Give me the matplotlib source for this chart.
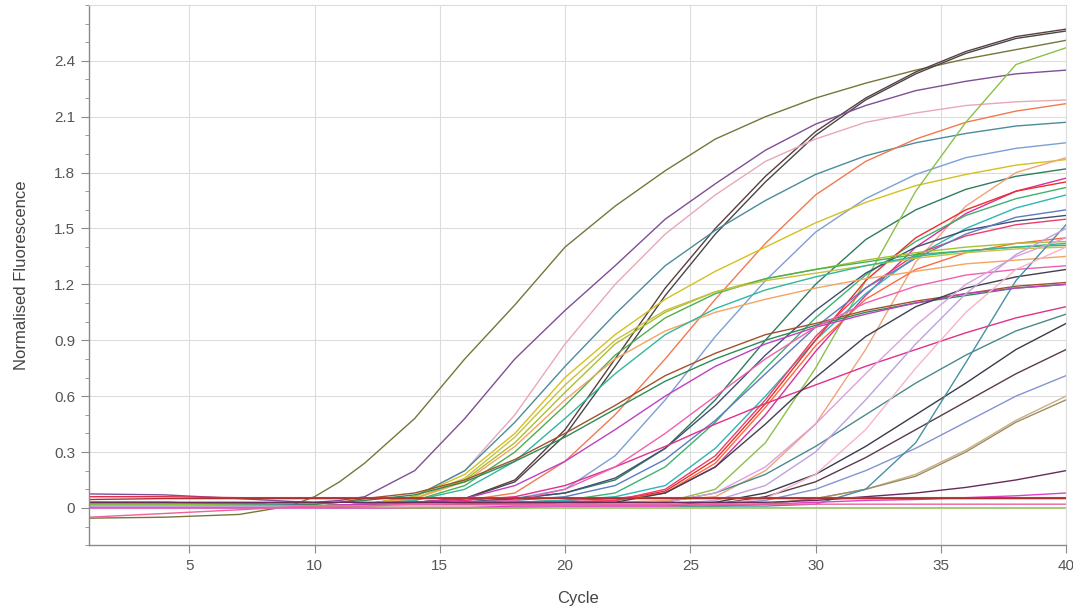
import matplotlib.pyplot as plt
from matplotlib.ticker import MultipleLocator

plt.rcParams['font.family'] = ['Liberation Sans', 'DejaVu Sans']

cycles = [1, 4, 7, 9, 10, 11, 12, 14, 16, 18, 20, 22, 24, 26, 28, 30, 32, 34, 36, 38, 40]

# normalised fluorescence per run, same order as cycles
run_olive = [-0.055, -0.05, -0.035, 0.01, 0.06, 0.14, 0.24, 0.48, 0.80, 1.09, 1.40, 1.62, 1.81, 1.98, 2.10, 2.20, 2.28, 2.35, 2.41, 2.46, 2.51]
run_brown = [0.03, 0.03, 0.02, 0.015, 0.01, 0.015, 0.02, 0.03, 0.05, 0.15, 0.42, 0.80, 1.18, 1.50, 1.78, 2.02, 2.20, 2.34, 2.45, 2.53, 2.57]
run_dkgray = [0.02, 0.02, 0.02, 0.015, 0.01, 0.015, 0.02, 0.03, 0.05, 0.14, 0.39, 0.76, 1.14, 1.47, 1.75, 2.00, 2.19, 2.33, 2.44, 2.52, 2.56]
run_purple = [0.075, 0.07, 0.05, 0.035, 0.03, 0.04, 0.06, 0.20, 0.48, 0.80, 1.06, 1.30, 1.55, 1.74, 1.92, 2.06, 2.16, 2.24, 2.29, 2.33, 2.35]
run_ltpink = [0.03, 0.02, 0.02, 0.015, 0.01, 0.015, 0.02, 0.06, 0.20, 0.50, 0.88, 1.20, 1.47, 1.68, 1.86, 1.98, 2.07, 2.12, 2.16, 2.18, 2.19]
run_teal = [0.02, 0.02, 0.02, 0.015, 0.01, 0.015, 0.02, 0.06, 0.20, 0.46, 0.76, 1.04, 1.30, 1.49, 1.65, 1.79, 1.89, 1.96, 2.01, 2.05, 2.07]
run_salmon = [0.03, 0.03, 0.02, 0.015, 0.01, 0.015, 0.02, 0.03, 0.04, 0.08, 0.25, 0.50, 0.80, 1.12, 1.42, 1.68, 1.86, 1.98, 2.07, 2.13, 2.17]
run_ltblue = [0.01, 0.01, 0.01, 0.01, 0.01, 0.01, 0.01, 0.02, 0.03, 0.05, 0.10, 0.28, 0.58, 0.92, 1.22, 1.48, 1.66, 1.79, 1.88, 1.93, 1.96]
run_gold = [0.02, 0.02, 0.02, 0.015, 0.01, 0.015, 0.02, 0.06, 0.18, 0.40, 0.70, 0.93, 1.12, 1.27, 1.40, 1.53, 1.64, 1.73, 1.79, 1.84, 1.87]
run_dkgreen = [0.01, 0.01, 0.01, 0.01, 0.01, 0.01, 0.01, 0.02, 0.03, 0.05, 0.08, 0.15, 0.32, 0.58, 0.90, 1.20, 1.44, 1.60, 1.71, 1.78, 1.82]
run_ltgreen = [0.01, 0.01, 0.01, 0.01, 0.01, 0.01, 0.01, 0.01, 0.01, 0.01, 0.01, 0.02, 0.03, 0.10, 0.35, 0.75, 1.22, 1.70, 2.07, 2.38, 2.47]
run_peach = [0.02, 0.02, 0.02, 0.015, 0.01, 0.01, 0.01, 0.01, 0.02, 0.02, 0.03, 0.03, 0.04, 0.06, 0.20, 0.45, 0.85, 1.32, 1.62, 1.80, 1.88]
run_magenta = [0.02, 0.02, 0.02, 0.015, 0.01, 0.01, 0.01, 0.02, 0.02, 0.03, 0.04, 0.05, 0.08, 0.22, 0.50, 0.84, 1.14, 1.40, 1.58, 1.70, 1.77]
run_medgreen = [0.01, 0.01, 0.01, 0.01, 0.01, 0.01, 0.01, 0.02, 0.02, 0.03, 0.04, 0.08, 0.22, 0.46, 0.75, 1.02, 1.25, 1.43, 1.57, 1.66, 1.72]
run_cyan = [0.01, 0.01, 0.01, 0.01, 0.01, 0.01, 0.01, 0.01, 0.02, 0.03, 0.04, 0.06, 0.12, 0.32, 0.60, 0.90, 1.15, 1.35, 1.50, 1.61, 1.68]
run_red = [0.02, 0.02, 0.02, 0.015, 0.01, 0.01, 0.01, 0.01, 0.02, 0.02, 0.03, 0.04, 0.09, 0.26, 0.56, 0.90, 1.22, 1.45, 1.60, 1.70, 1.75]
run_orred = [0.02, 0.02, 0.02, 0.015, 0.01, 0.01, 0.01, 0.01, 0.02, 0.02, 0.03, 0.04, 0.08, 0.24, 0.54, 0.87, 1.12, 1.28, 1.37, 1.42, 1.45]
run_crimson = [0.01, 0.01, 0.01, 0.01, 0.01, 0.01, 0.01, 0.01, 0.02, 0.02, 0.03, 0.04, 0.10, 0.28, 0.58, 0.92, 1.18, 1.36, 1.46, 1.52, 1.55]
run_navy = [0.02, 0.02, 0.02, 0.015, 0.01, 0.01, 0.01, 0.02, 0.03, 0.05, 0.08, 0.16, 0.32, 0.55, 0.82, 1.06, 1.26, 1.40, 1.49, 1.54, 1.57]
run_blue = [0.01, 0.01, 0.01, 0.01, 0.01, 0.01, 0.01, 0.02, 0.03, 0.04, 0.06, 0.12, 0.26, 0.47, 0.72, 0.97, 1.18, 1.34, 1.47, 1.56, 1.60]
run_ygreen = [0.02, 0.02, 0.02, 0.015, 0.01, 0.015, 0.02, 0.05, 0.15, 0.35, 0.62, 0.88, 1.05, 1.16, 1.23, 1.28, 1.33, 1.37, 1.40, 1.42, 1.43]
run_green = [0.01, 0.01, 0.01, 0.01, 0.01, 0.015, 0.02, 0.04, 0.12, 0.30, 0.55, 0.82, 1.02, 1.15, 1.23, 1.28, 1.32, 1.36, 1.38, 1.40, 1.41]
run_khaki = [0.03, 0.03, 0.02, 0.015, 0.01, 0.015, 0.02, 0.05, 0.16, 0.38, 0.66, 0.90, 1.06, 1.16, 1.22, 1.26, 1.30, 1.34, 1.37, 1.39, 1.40]
run_sandy = [0.02, 0.02, 0.02, 0.015, 0.01, 0.015, 0.02, 0.05, 0.14, 0.33, 0.58, 0.80, 0.95, 1.05, 1.12, 1.18, 1.23, 1.27, 1.31, 1.33, 1.35]
run_tealgreen = [0.02, 0.02, 0.02, 0.015, 0.01, 0.015, 0.02, 0.04, 0.10, 0.25, 0.48, 0.72, 0.93, 1.07, 1.17, 1.24, 1.30, 1.35, 1.38, 1.40, 1.42]
run_sienna = [0.02, 0.02, 0.02, 0.02, 0.02, 0.03, 0.05, 0.08, 0.15, 0.26, 0.40, 0.55, 0.71, 0.83, 0.93, 0.99, 1.06, 1.11, 1.15, 1.19, 1.21]
run_seagreen = [0.02, 0.02, 0.02, 0.02, 0.02, 0.03, 0.04, 0.07, 0.14, 0.25, 0.38, 0.53, 0.68, 0.80, 0.90, 0.98, 1.05, 1.10, 1.14, 1.18, 1.20]
run_rose = [0.01, 0.01, 0.01, 0.01, 0.01, 0.015, 0.02, 0.03, 0.04, 0.06, 0.12, 0.22, 0.33, 0.45, 0.56, 0.66, 0.76, 0.85, 0.94, 1.02, 1.08]
run_violet = [0.02, 0.02, 0.02, 0.015, 0.01, 0.015, 0.02, 0.03, 0.05, 0.12, 0.25, 0.42, 0.60, 0.76, 0.88, 0.97, 1.04, 1.10, 1.15, 1.18, 1.20]
run_hotpink = [0.01, 0.01, 0.01, 0.01, 0.01, 0.01, 0.01, 0.02, 0.03, 0.04, 0.10, 0.22, 0.40, 0.60, 0.80, 0.97, 1.10, 1.19, 1.25, 1.28, 1.30]
run_slate = [0.02, 0.02, 0.02, 0.015, 0.01, 0.01, 0.01, 0.01, 0.02, 0.02, 0.02, 0.03, 0.08, 0.22, 0.45, 0.70, 0.92, 1.08, 1.18, 1.24, 1.28]
run_tealgray = [0.02, 0.02, 0.02, 0.015, 0.01, 0.01, 0.01, 0.01, 0.01, 0.02, 0.02, 0.02, 0.03, 0.08, 0.18, 0.33, 0.50, 0.67, 0.82, 0.95, 1.04]
run_charcoal = [0.01, 0.01, 0.01, 0.01, 0.01, 0.01, 0.01, 0.01, 0.01, 0.01, 0.01, 0.01, 0.02, 0.03, 0.08, 0.18, 0.33, 0.50, 0.67, 0.85, 0.99]
run_plumbrown = [0.01, 0.01, 0.01, 0.01, 0.01, 0.01, 0.01, 0.01, 0.01, 0.01, 0.01, 0.01, 0.01, 0.02, 0.06, 0.14, 0.27, 0.42, 0.57, 0.72, 0.85]
run_lavender = [0.01, 0.01, 0.01, 0.01, 0.01, 0.01, 0.01, 0.01, 0.01, 0.01, 0.01, 0.01, 0.01, 0.02, 0.04, 0.10, 0.20, 0.32, 0.46, 0.60, 0.71]
run_tan = [0.01, 0.01, 0.01, 0.01, 0.01, 0.01, 0.01, 0.01, 0.01, 0.01, 0.01, 0.01, 0.01, 0.01, 0.02, 0.05, 0.10, 0.18, 0.31, 0.47, 0.60]
run_tan2 = [0.0, 0.0, 0.0, 0.0, 0.0, 0.0, 0.0, 0.0, 0.0, 0.0, 0.01, 0.01, 0.01, 0.01, 0.02, 0.05, 0.10, 0.17, 0.30, 0.46, 0.58]
run_steepteal = [0.02, 0.02, 0.02, 0.015, 0.01, 0.01, 0.01, 0.01, 0.01, 0.01, 0.01, 0.01, 0.01, 0.01, 0.01, 0.02, 0.10, 0.35, 0.78, 1.22, 1.52]
run_plum = [0.01, 0.01, 0.01, 0.01, 0.01, 0.01, 0.01, 0.01, 0.01, 0.01, 0.02, 0.02, 0.03, 0.08, 0.22, 0.45, 0.72, 0.98, 1.20, 1.35, 1.45]
run_ltviolet = [0.01, 0.01, 0.01, 0.01, 0.01, 0.01, 0.01, 0.01, 0.01, 0.01, 0.01, 0.02, 0.02, 0.04, 0.12, 0.30, 0.58, 0.88, 1.15, 1.36, 1.50]
run_blush = [0.0, 0.0, 0.0, 0.0, 0.0, 0.005, 0.01, 0.01, 0.01, 0.01, 0.01, 0.01, 0.01, 0.02, 0.05, 0.18, 0.42, 0.75, 1.05, 1.28, 1.40]
run_dkmagenta = [0.03, 0.03, 0.03, 0.03, 0.03, 0.03, 0.03, 0.03, 0.03, 0.03, 0.03, 0.03, 0.03, 0.03, 0.03, 0.04, 0.06, 0.08, 0.11, 0.15, 0.20]
run_orchid = [0.0, 0.0, 0.0, 0.0, 0.0, 0.0, 0.0, 0.0, 0.0, 0.01, 0.01, 0.01, 0.01, 0.02, 0.02, 0.03, 0.04, 0.045, 0.055, 0.065, 0.08]
run_redflat = [0.06, 0.06, 0.055, 0.055, 0.055, 0.055, 0.055, 0.055, 0.055, 0.055, 0.055, 0.055, 0.055, 0.055, 0.055, 0.055, 0.055, 0.055, 0.055, 0.055, 0.055]
run_maroonflat = [0.045, 0.05, 0.05, 0.05, 0.05, 0.05, 0.05, 0.05, 0.05, 0.05, 0.05, 0.05, 0.05, 0.05, 0.05, 0.05, 0.05, 0.05, 0.05, 0.05, 0.05]
run_limeflat = [0.02, 0.02, 0.015, 0.012, 0.01, 0.008, 0.005, 0.0, 0.0, 0.0, 0.0, 0.0, 0.0, 0.0, 0.0, 0.0, 0.0, 0.0, 0.0, 0.0, 0.0]
run_pinkflat = [-0.05, -0.03, -0.01, 0.005, 0.01, 0.01, 0.01, 0.02, 0.02, 0.02, 0.02, 0.02, 0.02, 0.02, 0.02, 0.02, 0.02, 0.02, 0.02, 0.02, 0.02]

runs = [
    run_olive, run_brown, run_dkgray, run_purple, run_ltpink, run_teal, run_salmon,
    run_ltblue, run_gold, run_dkgreen, run_ltgreen, run_peach, run_magenta, run_medgreen,
    run_cyan, run_red, run_orred, run_crimson, run_navy, run_blue, run_ygreen, run_green,
    run_khaki, run_sandy, run_tealgreen, run_sienna, run_seagreen, run_rose, run_violet,
    run_hotpink, run_slate, run_tealgray, run_charcoal, run_plumbrown, run_lavender,
    run_tan, run_tan2, run_steepteal, run_plum, run_ltviolet, run_blush, run_dkmagenta,
    run_orchid, run_redflat, run_maroonflat, run_limeflat, run_pinkflat,
]
colors = [
    "#76763a", "#5b3f3f", "#474747", "#7e4f96", "#e8a8b8", "#4a8c9c", "#f07a50",
    "#7aa0d4", "#d4c020", "#2e7d5e", "#8cc04a", "#f0a47c", "#d8309c", "#3cb371",
    "#2fb5b5", "#e8302c", "#ff6a3c", "#f03c6c", "#405074", "#5a7cc0", "#a8c030", "#4caf50",
    "#c8c040", "#f4a460", "#30b89c", "#a0522d", "#2e8b57", "#e0308a", "#c040c0",
    "#f060b0", "#404050", "#4a8a8a", "#3a3a4a", "#5a3a4c", "#8494d0",
    "#c8b088", "#a08c64", "#4890a4", "#dda0dd", "#c0a0e0", "#f8b4cc", "#6a2a5a",
    "#e040c8", "#e02848", "#b03030", "#8cc43c", "#f0609c",
]

fig = plt.figure(figsize=(10.73, 6.16), dpi=100)
ax = fig.add_axes([0.083, 0.115, 0.9105, 0.877])

for vals, col in zip(runs, colors):
    ax.plot(cycles, vals, color=col, lw=1.0)

ax.set_xlim(1, 40)
ax.set_ylim(-0.2, 2.7)
ax.set_xticks([5, 10, 15, 20, 25, 30, 35, 40])
ax.set_yticks([0, 0.3, 0.6, 0.9, 1.2, 1.5, 1.8, 2.1, 2.4])
ax.set_yticklabels(["0", "0.3", "0.6", "0.9", "1.2", "1.5", "1.8", "2.1", "2.4"])
ax.yaxis.set_minor_locator(MultipleLocator(0.1))

ax.grid(True, which='major', color='#dcdcdc', lw=0.8)
ax.set_axisbelow(True)
for side in ['top', 'right']:
    ax.spines[side].set_color('#dcdcdc')
    ax.spines[side].set_linewidth(0.8)
for side in ['left', 'bottom']:
    ax.spines[side].set_color('#8a8a8a')
    ax.spines[side].set_linewidth(1.0)

ax.tick_params(axis='both', which='major', length=6, color='#8a8a8a', labelsize=11, labelcolor='#555555', pad=4)
ax.tick_params(axis='y', which='minor', length=3, color='#8a8a8a')

ax.set_xlabel("Cycle", fontsize=12, color='#444444', labelpad=13)
ax.set_ylabel("Normalised Fluorescence", fontsize=12, color='#444444', labelpad=18)

fig.savefig("out.png", dpi=100)
